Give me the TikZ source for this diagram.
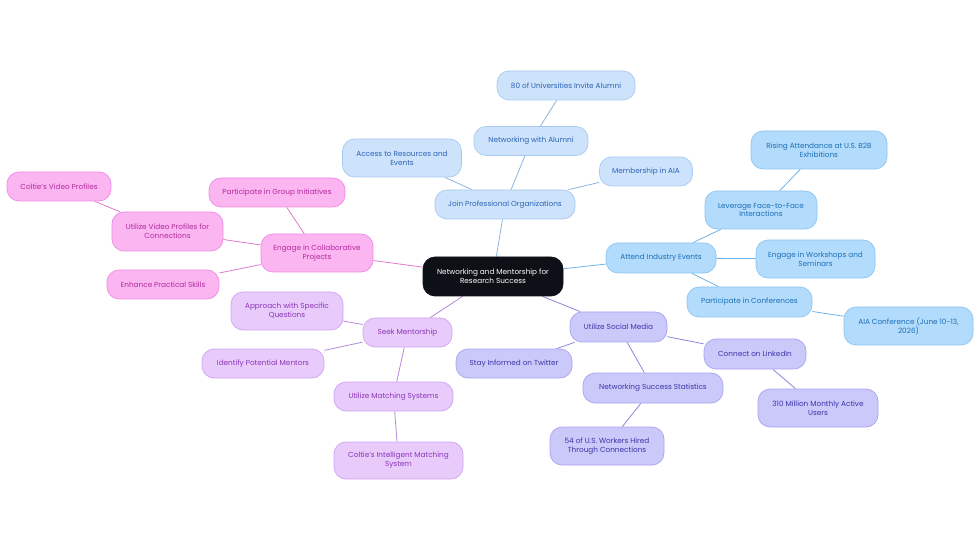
\documentclass[tikz,border=0pt]{standalone}
\usepackage{fontspec}
\setmainfont{Poppins}
\usetikzlibrary{backgrounds}
\definecolor{jpF}{HTML}{CDE3FB}\definecolor{jpD}{HTML}{A8CAF0}\definecolor{jpT}{HTML}{2C63B5}\definecolor{jpE}{HTML}{8EB4E0}
\definecolor{aiF}{HTML}{B3DBFB}\definecolor{aiD}{HTML}{8DC6F2}\definecolor{aiT}{HTML}{1B6FB8}\definecolor{aiE}{HTML}{6FB3E6}
\definecolor{smF}{HTML}{CBC8FA}\definecolor{smD}{HTML}{A9A5EF}\definecolor{smT}{HTML}{3A37A8}\definecolor{smE}{HTML}{8A87D8}
\definecolor{mtF}{HTML}{E8CAFB}\definecolor{mtD}{HTML}{CFA5F2}\definecolor{mtT}{HTML}{8B36B8}\definecolor{mtE}{HTML}{B48AD8}
\definecolor{cpF}{HTML}{FBB5F1}\definecolor{cpD}{HTML}{F08BE2}\definecolor{cpT}{HTML}{B22A9C}\definecolor{cpE}{HTML}{E07AD0}
\definecolor{rootF}{HTML}{0D1117}
\tikzset{
  box/.style={rounded corners=12pt, line width=0.7pt, align=center, inner sep=2pt,
    font=\fontsize{7.3}{8.8}\selectfont, minimum height=29pt},
  two/.style={minimum height=38pt},
  jp/.style={box, fill=jpF, draw=jpD, text=jpT},
  ai/.style={box, fill=aiF, draw=aiD, text=aiT},
  sm/.style={box, fill=smF, draw=smD, text=smT},
  mt/.style={box, fill=mtF, draw=mtD, text=mtT},
  cp/.style={box, fill=cpF, draw=cpD, text=cpT},
  rootbox/.style={box, fill=rootF, draw=rootF, text=white, minimum height=39pt},
  jpl/.style={draw=jpE, line width=0.8pt},
  ail/.style={draw=aiE, line width=0.8pt},
  sml/.style={draw=smE, line width=0.8pt},
  mtl/.style={draw=mtE, line width=0.8pt},
  cpl/.style={draw=cpE, line width=0.8pt},
}
\begin{document}
\begin{tikzpicture}[x=1pt,y=-1pt]
\useasboundingbox (0,0) rectangle (980,553);
\node[rootbox, minimum width=140pt] (root) at (493,276.5) {Networking and Mentorship for\\Research Success};
% Join professional organizations
\node[jp, minimum width=140pt] (jpo) at (505,204.5) {Join Professional Organizations};
\node[jp, two, minimum width=119pt] (acc) at (402,158) {Access to Resources and\\Events};
\node[jp, minimum width=114pt] (nwa) at (531,141) {Networking with Alumni};
\node[jp, minimum width=138pt] (uni) at (566,85.5) {80 of Universities Invite Alumni};
\node[jp, minimum width=93pt] (aia) at (646,171.5) {Membership in AIA};
% Attend industry events
\node[ai, minimum width=110pt, minimum height=30pt] (aie) at (661,258) {Attend Industry Events};
\node[ai, two, minimum width=112pt] (lev) at (761,210) {Leverage Face-to-Face\\Interactions};
\node[ai, two, minimum width=136pt] (ris) at (819,150) {Rising Attendance at U.S. B2B\\Exhibitions};
\node[ai, two, minimum width=119pt] (wrk) at (815.5,259) {Engage in Workshops and\\Seminars};
\node[ai, minimum width=125pt, minimum height=30pt] (pic) at (749.5,302) {Participate in Conferences};
\node[ai, two, minimum width=129pt] (aic) at (908.5,326) {AIA Conference (June 10-13,\\2026)};
% Social media
\node[sm, minimum width=97pt, minimum height=30pt] (usm) at (618.5,327) {Utilize Social Media};
\node[sm, minimum width=116pt] (twt) at (514,363.5) {Stay Informed on Twitter};
\node[sm, minimum width=140pt, minimum height=30pt] (nss) at (653,388) {Networking Success Statistics};
\node[sm, two, minimum width=114pt] (wkh) at (607,446) {54 of U.S. Workers Hired\\Through Connections};
\node[sm, minimum width=102pt, minimum height=30pt] (lin) at (755,354) {Connect on LinkedIn};
\node[sm, two, minimum width=120pt] (mau) at (818,408) {310 Million Monthly Active\\Users};
% Mentorship
\node[mt, minimum width=89pt] (skm) at (407.5,332.5) {Seek Mentorship};
\node[mt, two, minimum width=112pt] (apq) at (287,311) {Approach with Specific\\Questions};
\node[mt, minimum width=122pt] (ipm) at (263,363.5) {Identify Potential Mentors};
\node[mt, minimum width=119pt] (ums) at (393.5,396.5) {Utilize Matching Systems};
\node[mt, two, minimum width=129pt, minimum height=37pt] (cim) at (398.5,460.5) {Coltie's Intelligent Matching\\System};
% Collaborative projects
\node[cp, two, minimum width=112pt] (ecp) at (317,253) {Engage in Collaborative\\Projects};
\node[cp, minimum width=136pt] (pgi) at (277,192.5) {Participate in Group Initiatives};
\node[cp, two, minimum width=111pt, minimum height=39pt] (uvp) at (167.5,231.5) {Utilize Video Profiles for\\Connections};
\node[cp, minimum width=104pt] (cvp) at (59,186.5) {Coltie's Video Profiles};
\node[cp, minimum width=112pt] (eps) at (163,284.5) {Enhance Practical Skills};
\begin{scope}[on background layer]
\fill[white] (0,0) rectangle (980,553);
\draw[jpl] (root) -- (jpo);
\draw[jpl] (jpo) -- (acc);
\draw[jpl] (jpo) -- (nwa);
\draw[jpl] (nwa) -- (uni);
\draw[jpl] (jpo) -- (aia);
\draw[ail] (root) -- (aie);
\draw[ail] (aie) -- (lev);
\draw[ail] (lev) -- (ris);
\draw[ail] (aie) -- (wrk);
\draw[ail] (aie) -- (pic);
\draw[ail] (pic) -- (aic);
\draw[sml] (root) -- (usm);
\draw[sml] (usm) -- (twt);
\draw[sml] (usm) -- (nss);
\draw[sml] (nss) -- (wkh);
\draw[sml] (usm) -- (lin);
\draw[sml] (lin) -- (mau);
\draw[mtl] (root) -- (skm);
\draw[mtl] (skm) -- (apq);
\draw[mtl] (skm) -- (ipm);
\draw[mtl] (skm) -- (ums);
\draw[mtl] (ums) -- (cim);
\draw[cpl] (root) -- (ecp);
\draw[cpl] (ecp) -- (pgi);
\draw[cpl] (ecp) -- (uvp);
\draw[cpl] (uvp) -- (cvp);
\draw[cpl] (ecp) -- (eps);
\end{scope}
\end{tikzpicture}
\end{document}
